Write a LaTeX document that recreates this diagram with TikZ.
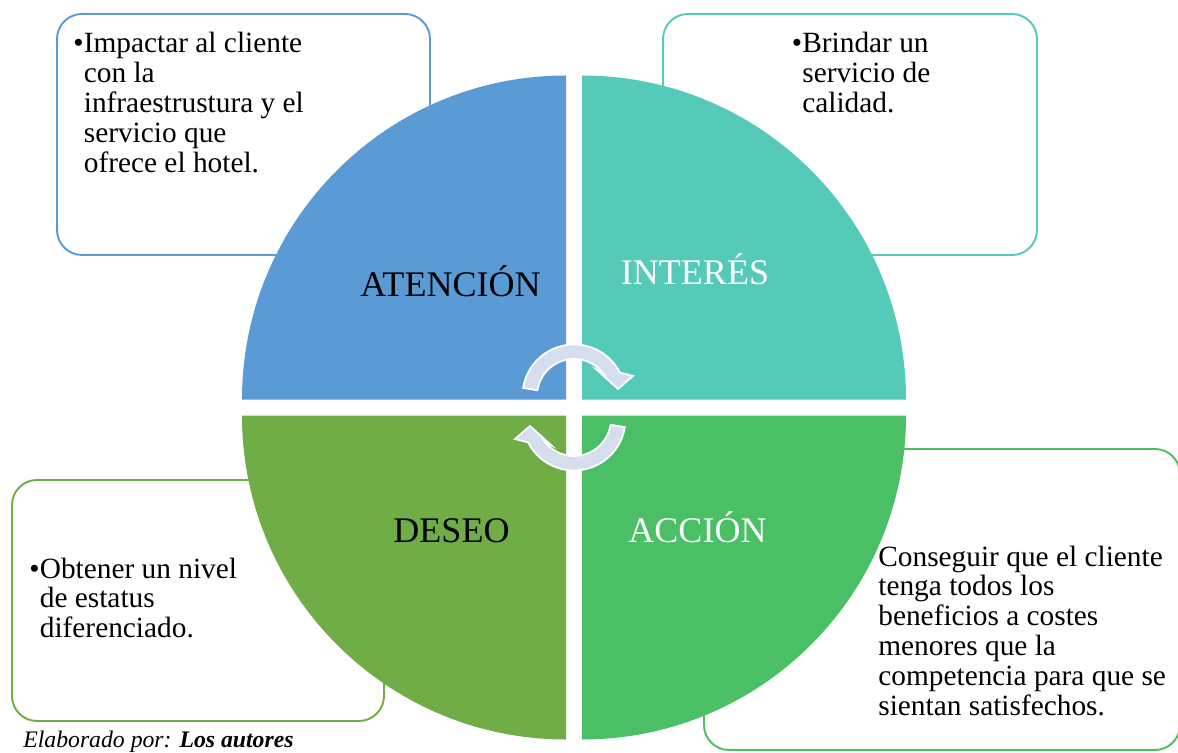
\documentclass[tikz,border=0pt]{standalone}
\usepackage{fontspec}
\setmainfont{Liberation Serif}
\usetikzlibrary{positioning}

\definecolor{atencion}{HTML}{5B9BD5}
\definecolor{interes}{HTML}{55CAB9}
\definecolor{deseo}{HTML}{70AD47}
\definecolor{accion}{HTML}{4ABF66}
\definecolor{ciclo}{HTML}{D5DDEE}

% bullet with the following lines hanging under the text
\newcommand{\vineta}[1]{\makebox[0.21cm][l]{\textbullet}\parbox[t]{7cm}{#1}}

\tikzset{%
  every caja/.style={
    draw,
    rounded corners=0.5cm,
    line width=1.1pt,
    fill=white
  },
  every texto/.style={
    anchor=base west,
    inner sep=0pt,
    font=\fontsize{16.7}{17}\selectfont
  },
  every etapa/.style={
    anchor=base,
    inner sep=0pt,
    font=\fontsize{20.5}{22}\selectfont
  }
}

\begin{document}
\begin{tikzpicture}
		\useasboundingbox (-11.48,-6.89) rectangle (12.08,8.15);
		%% text boxes behind the circle
		\node[every caja, draw=atencion, minimum width=7.46cm, minimum height=4.82cm] (c0) at (-6.61,5.46) {};
		\node[every caja, draw=interes, minimum width=7.48cm, minimum height=4.82cm] (c1) at (5.52,5.46) {};
		\node[every caja, draw=deseo, minimum width=7.44cm, minimum height=4.82cm] (c2) at (-7.52,-3.86) {};
		\node[every caja, draw=accion, minimum width=9.52cm, minimum height=6.02cm] (c3) at (7.36,-3.84) {};
		%% the four quarters
		\fill[atencion] (-0.16,0.16) -- (-6.64,0.16) arc[start angle=180, end angle=90, radius=6.48] -- cycle;
		\fill[interes] (0.16,0.16) -- (0.16,6.64) arc[start angle=90, end angle=0, radius=6.48] -- cycle;
		\fill[deseo] (-0.16,-0.16) -- (-0.16,-6.64) arc[start angle=270, end angle=180, radius=6.48] -- cycle;
		\fill[accion] (0.16,-0.16) -- (6.64,-0.16) arc[start angle=0, end angle=-90, radius=6.48] -- cycle;
		%% cycle arrows in the middle
		\foreach \giro in {0,180}{
			\begin{scope}[rotate=\giro, shift={(0,0.23)}]
				\draw[white, line width=1pt, fill=ciclo]
				(171:1.03) arc[start angle=171, end angle=27, radius=1.03]
				-- (1.18,0.40) -- (0.88,0.14) -- (0.46,0.52)
				-- (38:0.74) arc[start angle=38, end angle=171, radius=0.74] -- cycle;
			\end{scope}
		}
		%% stage names
		\node[every etapa] (ate) at (-2.47,2.21) {ATENCIÓN};
		\node[every etapa, text=white] (int) at (2.42,2.45) {INTERÉS};
		\node[every etapa] (des) at (-2.45,-2.69) {DESEO};
		\node[every etapa, text=white] (acc) at (2.47,-2.69) {ACCIÓN};
		%% box texts
		\node[every texto] (t0) at (-10.02,7.09) {\vineta{Impactar al cliente\\con la\\infraestrustura y el\\servicio que\\ofrece el hotel.}};
		\node[every texto] (t1) at (4.35,7.09) {\vineta{Brindar un\\servicio de\\calidad.}};
		\node[every texto] (t2) at (-10.90,-3.41) {\vineta{Obtener un nivel\\de estatus\\diferenciado.}};
		\node[every texto] (t3) at (6.08,-3.17) {\parbox[t]{6cm}{Conseguir que el cliente\\tenga todos los\\beneficios a costes\\menores que la\\competencia para que se\\sientan satisfechos.}};
		%% source
		\node[anchor=base west, inner sep=0pt, font=\fontsize{13.5}{15}\selectfont\itshape] (fuente) at (-11.02,-6.79) {Elaborado por: \textbf{Los autores}};
	\end{tikzpicture}
\end{document}
